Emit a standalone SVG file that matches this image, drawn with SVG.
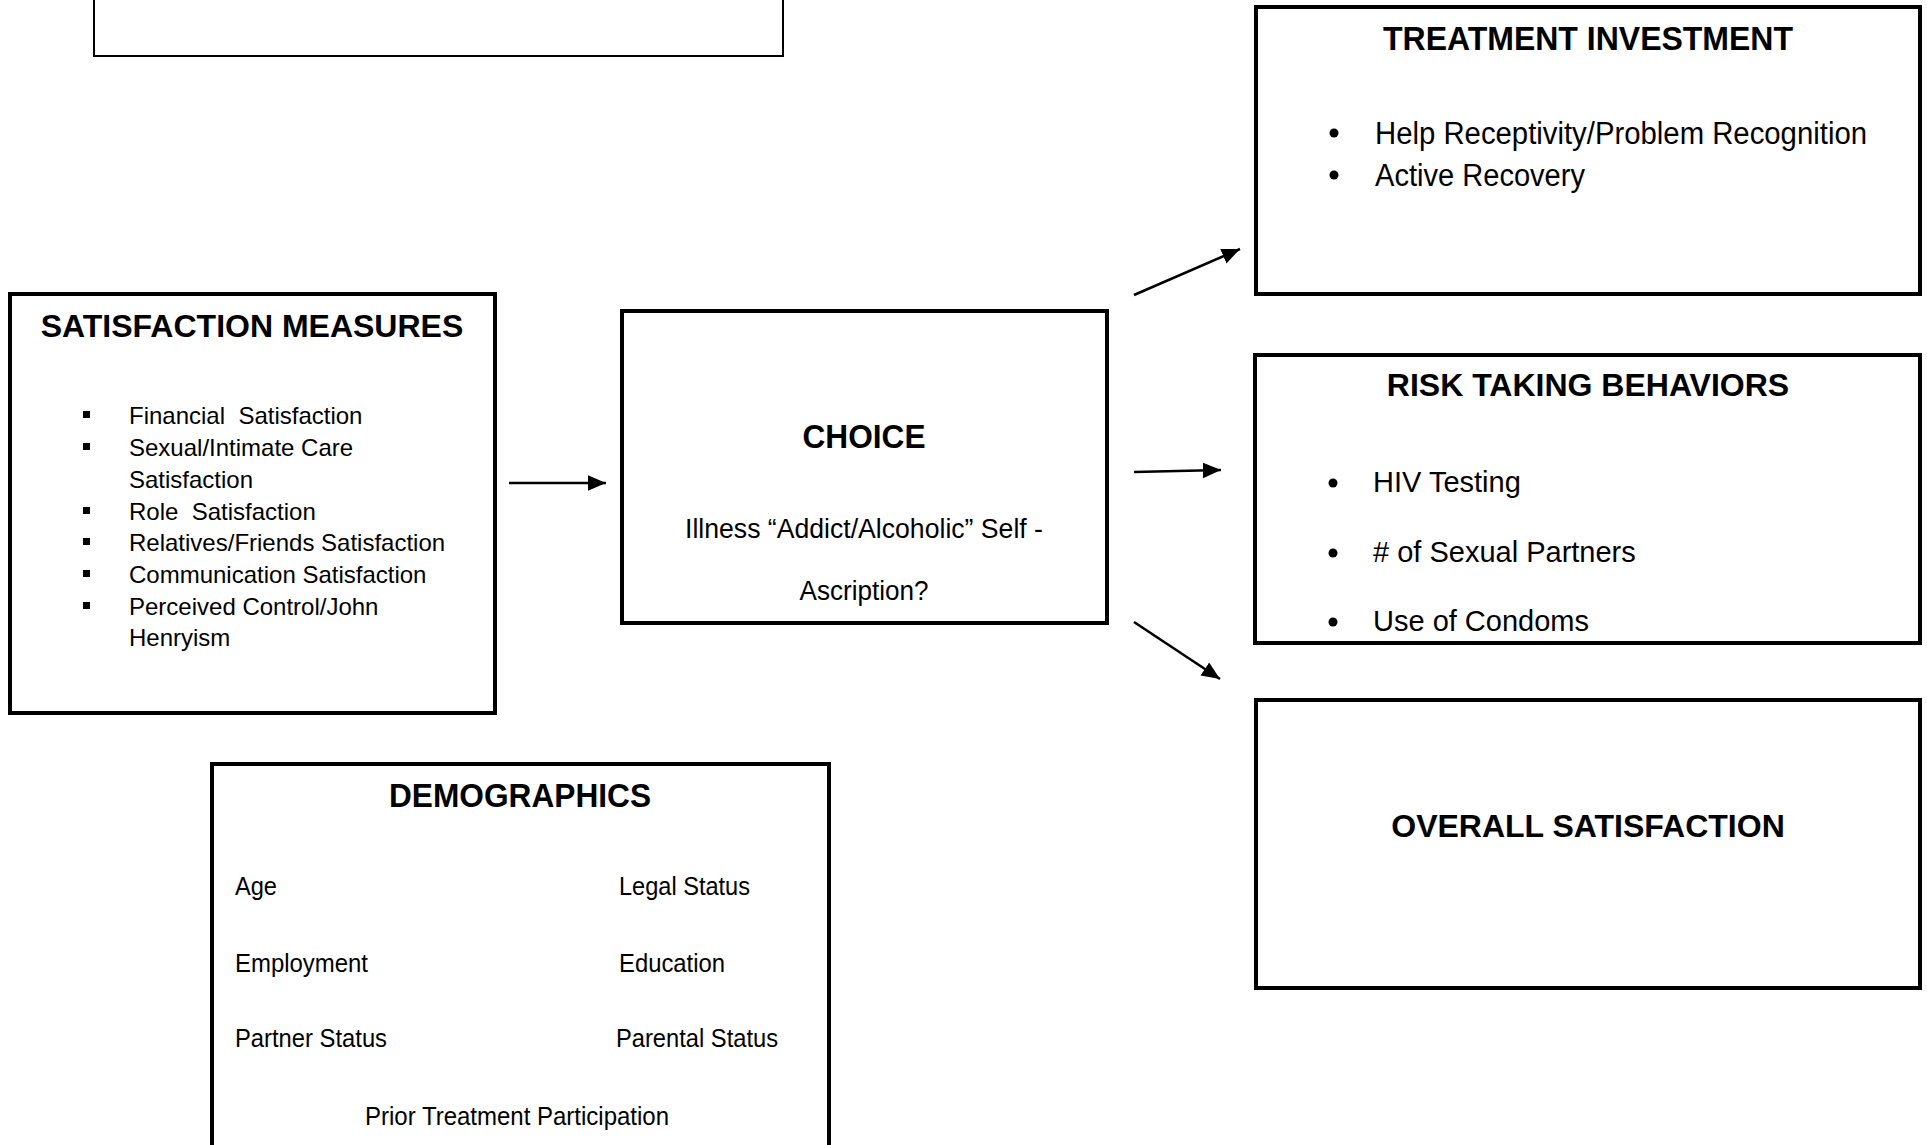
<svg xmlns="http://www.w3.org/2000/svg" width="1927" height="1145" viewBox="0 0 1927 1145">
<style>
.box{fill:#fff;stroke:#000;stroke-width:4}
.thin{fill:#fff;stroke:#000;stroke-width:2}
.t{font-family:"Liberation Sans",Arial,sans-serif;fill:#000}
.h{font-weight:bold;font-size:32px}
.hn{font-weight:bold;font-size:34px}
.s{font-size:24px}
.m{font-size:29px}
.c{text-anchor:middle}
.conn line{stroke:#000;stroke-width:2.6}
</style>
<defs>
<marker id="arr" markerWidth="8" markerHeight="8" refX="7" refY="4" orient="auto" markerUnits="strokeWidth">
<path d="M0,1 L7,4 L0,7 Z" fill="#000"/>
</marker>
</defs>
<rect width="1927" height="1145" fill="#fff"/>

<g id="top-box">
<rect class="thin" x="94" y="-20" width="689" height="76"/>
</g>

<g id="satisfaction-measures">
<rect class="box" x="10" y="294" width="485" height="419"/>
<text class="t h c" x="252" y="337">SATISFACTION MEASURES</text>
<g fill="#000">
<rect x="83" y="411" width="7" height="7"/>
<rect x="83" y="443" width="7" height="7"/>
<rect x="83" y="507" width="7" height="7"/>
<rect x="83" y="538" width="7" height="7"/>
<rect x="83" y="570" width="7" height="7"/>
<rect x="83" y="602" width="7" height="7"/>
</g>
<text class="t s" x="129" y="424" xml:space="preserve">Financial  Satisfaction</text>
<text class="t s" x="129" y="456">Sexual/Intimate Care</text>
<text class="t s" x="129" y="488">Satisfaction</text>
<text class="t s" x="129" y="520" xml:space="preserve">Role  Satisfaction</text>
<text class="t s" x="129" y="551">Relatives/Friends Satisfaction</text>
<text class="t s" x="129" y="583">Communication Satisfaction</text>
<text class="t s" x="129" y="615">Perceived Control/John</text>
<text class="t s" x="129" y="646">Henryism</text>
</g>

<g id="choice">
<rect class="box" x="622" y="311" width="485" height="312"/>
<text class="t hn c" x="864" y="448" textLength="123" lengthAdjust="spacingAndGlyphs">CHOICE</text>
<text class="t c" style="font-size:27px" x="864" y="538" textLength="358" lengthAdjust="spacingAndGlyphs">Illness “Addict/Alcoholic” Self -</text>
<text class="t c" style="font-size:27px" x="864" y="600" textLength="129" lengthAdjust="spacingAndGlyphs">Ascription?</text>
</g>

<g id="treatment-investment">
<rect class="box" x="1256" y="7" width="664" height="287"/>
<text class="t hn c" x="1588" y="50" textLength="410" lengthAdjust="spacingAndGlyphs">TREATMENT INVESTMENT</text>
<circle cx="1334" cy="133" r="4.5" fill="#000"/>
<circle cx="1334" cy="175" r="4.5" fill="#000"/>
<text class="t" style="font-size:31px" x="1375" y="144" textLength="492" lengthAdjust="spacingAndGlyphs">Help Receptivity/Problem Recognition</text>
<text class="t" style="font-size:31px" x="1375" y="186" textLength="210" lengthAdjust="spacingAndGlyphs">Active Recovery</text>
</g>

<g id="risk-taking-behaviors">
<rect class="box" x="1255" y="355" width="665" height="288"/>
<text class="t h c" x="1588" y="396">RISK TAKING BEHAVIORS</text>
<circle cx="1333" cy="483" r="4.5" fill="#000"/>
<circle cx="1333" cy="553" r="4.5" fill="#000"/>
<circle cx="1333" cy="622" r="4.5" fill="#000"/>
<text class="t m" x="1373" y="492">HIV Testing</text>
<text class="t m" x="1373" y="562"># of Sexual Partners</text>
<text class="t m" x="1373" y="631">Use of Condoms</text>
</g>

<g id="overall-satisfaction">
<rect class="box" x="1256" y="700" width="664" height="288"/>
<text class="t h c" x="1588" y="837">OVERALL SATISFACTION</text>
</g>

<g id="demographics">
<rect class="box" x="212" y="764" width="617" height="420"/>
<text class="t hn c" x="520" y="807" textLength="262" lengthAdjust="spacingAndGlyphs">DEMOGRAPHICS</text>
<text class="t" style="font-size:26px" x="235" y="895" textLength="42" lengthAdjust="spacingAndGlyphs">Age</text>
<text class="t" style="font-size:26px" x="619" y="895" textLength="131" lengthAdjust="spacingAndGlyphs">Legal Status</text>
<text class="t" style="font-size:26px" x="235" y="972" textLength="133" lengthAdjust="spacingAndGlyphs">Employment</text>
<text class="t" style="font-size:26px" x="619" y="972" textLength="106" lengthAdjust="spacingAndGlyphs">Education</text>
<text class="t" style="font-size:26px" x="235" y="1047" textLength="152" lengthAdjust="spacingAndGlyphs">Partner Status</text>
<text class="t" style="font-size:26px" x="616" y="1047" textLength="162" lengthAdjust="spacingAndGlyphs">Parental Status</text>
<text class="t c" style="font-size:26px" x="517" y="1125" textLength="304" lengthAdjust="spacingAndGlyphs">Prior Treatment Participation</text>
</g>

<g id="connectors" class="conn">
<line x1="509" y1="483" x2="606" y2="483" marker-end="url(#arr)"/>
<line x1="1134" y1="295" x2="1240" y2="249" marker-end="url(#arr)"/>
<line x1="1134" y1="472" x2="1221" y2="470" marker-end="url(#arr)"/>
<line x1="1134" y1="622" x2="1220" y2="679" marker-end="url(#arr)"/>
</g>
</svg>
